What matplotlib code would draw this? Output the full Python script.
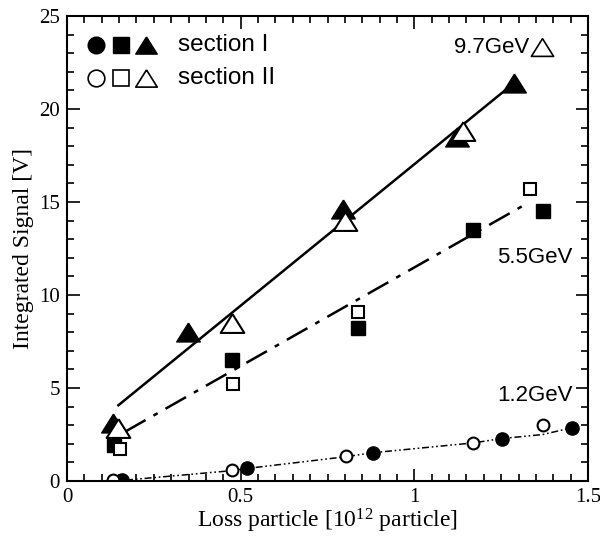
import matplotlib
matplotlib.use("Agg")
import matplotlib.pyplot as plt
from matplotlib.ticker import MultipleLocator

plt.rcParams['lines.scale_dashes'] = False
plt.rcParams['mathtext.fontset'] = 'custom'
plt.rcParams['mathtext.rm'] = 'Liberation Serif'
plt.rcParams['mathtext.it'] = 'Liberation Serif:italic'
plt.rcParams['mathtext.bf'] = 'Liberation Serif:bold'

# 9.7 GeV (triangles)
x97_I = [0.132, 0.347, 0.795, 1.122, 1.287]
y97_I = [3.1, 8.0, 14.6, 18.5, 21.4]
x97_II = [0.148, 0.474, 0.80, 1.141]
y97_II = [2.85, 8.5, 14.0, 18.8]
fit97_x = [0.145, 1.261]
fit97_y = [4.03, 21.0]

# 5.5 GeV (squares)
x55_I = [0.136, 0.476, 0.838, 1.17, 1.371]
y55_I = [1.94, 6.5, 8.2, 13.5, 14.5]
x55_II = [0.153, 0.477, 0.838, 1.333]
y55_II = [1.70, 5.2, 9.1, 15.7]
fit55_x = [0.167, 1.328]
fit55_y = [2.65, 14.96]

# 1.2 GeV (circles)
x12_I = [0.157, 0.519, 0.882, 1.253, 1.453]
y12_I = [0.08, 0.68, 1.52, 2.27, 2.87]
x12_II = [0.133, 0.474, 0.802, 1.17, 1.371]
y12_II = [0.03, 0.59, 1.34, 2.06, 3.0]
fit12_x = [0.17, 0.47, 0.52, 0.80, 0.88, 1.17, 1.25, 1.37, 1.45]
fit12_y = [0.05, 0.55, 0.68, 1.30, 1.52, 2.05, 2.28, 2.50, 2.85]

xticks = [0, 0.5, 1, 1.5]
xticklabels = ['0', '0.5', '1', '1.5']
yticks = [0, 5, 10, 15, 20, 25]

serif = 'Liberation Serif'
sans = 'Liberation Sans'

fig = plt.figure(figsize=(6.0, 5.42), dpi=100)
ax = fig.add_axes([0.1117, 0.1125, 0.8683, 0.858])

tri = [(0, 0.8), (-1, -0.8), (1, -0.8), (0, 0.8)]

# fit lines
ax.plot(fit97_x, fit97_y, color='black', lw=1.8, solid_capstyle='butt')
l55, = ax.plot(fit55_x, fit55_y, color='black', lw=1.8)
l55.set_dashes([17, 6.5, 3.5, 6.5])
l12, = ax.plot(fit12_x, fit12_y, color='black', lw=1.1)
l12.set_dashes([5, 2, 1.2, 2, 1.2, 2])

# markers
ax.plot(x97_I, y97_I, linestyle='none', marker=tri, ms=17, color='black')
ax.plot(x97_II, y97_II, linestyle='none', marker=tri, ms=17, mfc='white', mec='black', mew=1.5)
ax.plot(x55_I, y55_I, linestyle='none', marker='s', ms=9.5, color='black')
ax.plot(x55_II, y55_II, linestyle='none', marker='s', ms=9.0, mfc='white', mec='black', mew=1.5)
ax.plot(x12_I, y12_I, linestyle='none', marker='o', ms=9.5, color='black')
ax.plot(x12_II, y12_II, linestyle='none', marker='o', ms=8.5, mfc='white', mec='black', mew=1.5)

ax.set_xlim(0, 1.5)
ax.set_ylim(0, 25)
ax.set_xticks(xticks)
ax.set_xticklabels(xticklabels)
ax.set_yticks(yticks)
ax.xaxis.set_minor_locator(MultipleLocator(0.05))
ax.yaxis.set_minor_locator(MultipleLocator(1))
ax.tick_params(which='both', direction='in', top=True, right=True, width=1.2)
ax.tick_params(which='major', length=9, labelsize=15, pad=5)
ax.tick_params(which='minor', length=5)
for lab in ax.get_xticklabels() + ax.get_yticklabels():
    lab.set_fontfamily(serif)
for s in ax.spines.values():
    s.set_linewidth(1.5)

ax.set_xlabel('Loss particle [10$^{\\mathrm{12}}$ particle]', fontfamily=serif, fontsize=17, labelpad=0)
ax.set_ylabel('Integrated Signal [V]', fontfamily=serif, fontsize=17, labelpad=4)

# legend (drawn as markers + text)
lx = [0.083, 0.155, 0.228]
ly1, ly2 = 23.44, 21.67
ax.plot([lx[0]], [ly1], 'o', ms=12, color='black')
ax.plot([lx[1]], [ly1], 's', ms=11, color='black')
ax.plot([lx[2]], [ly1], marker=tri, ms=15.5, color='black')
ax.plot([lx[0]], [ly2], 'o', ms=12, mfc='white', mec='black', mew=1.2)
ax.plot([lx[1]], [ly2], 's', ms=11, mfc='white', mec='black', mew=1.2)
ax.plot([lx[2]], [ly2], marker=tri, ms=15.5, mfc='white', mec='black', mew=1.2)
ax.text(0.32, ly1, 'section I', fontfamily=sans, fontsize=17.5, va='center', ha='left')
ax.text(0.32, ly2, 'section II', fontfamily=sans, fontsize=17.5, va='center', ha='left')

# energy labels
ax.text(1.33, 23.3, '9.7GeV', fontfamily=sans, fontsize=16, va='center', ha='right')
ax.plot([1.367], [23.35], marker=tri, ms=16, mfc='white', mec='black', mew=1.2)
ax.text(1.455, 12.04, '5.5GeV', fontfamily=sans, fontsize=16, va='center', ha='right')
ax.text(1.455, 4.62, '1.2GeV', fontfamily=sans, fontsize=16, va='center', ha='right')

fig.savefig('out.png', dpi=100)
